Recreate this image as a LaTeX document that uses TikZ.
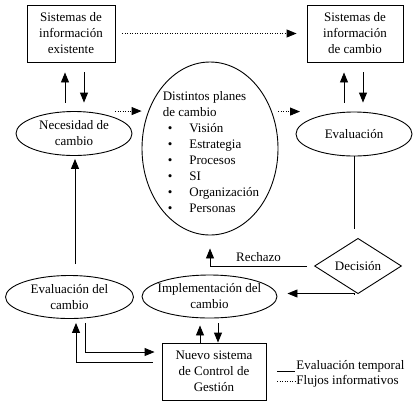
\documentclass[tikz,border=0pt]{standalone}
\usepackage{fontspec}
\setmainfont{Liberation Serif}
\usetikzlibrary{arrows.meta,shapes.geometric,calc}
\newcommand{\planitem}[1]{\hspace*{5pt}\textbullet\hspace{17pt}#1}
\begin{document}
\begin{tikzpicture}[x=1pt,y=-1pt,line width=0.9pt,
  font=\fontsize{13pt}{16pt}\selectfont,
  box/.style={draw,rectangle,align=center,inner sep=0pt},
  ell/.style={draw,ellipse,align=center,inner xsep=-10pt,inner ysep=0pt},
  decbox/.style={draw,diamond,inner sep=0pt,minimum width=87pt,minimum height=40pt},
  arr/.style={-{Triangle[width=8pt,length=10pt]}},
  flow/.style={arr,dash pattern=on 1pt off 1.5pt}]
\useasboundingbox (0,0) rectangle (419,408);
\node[box,minimum width=88pt,minimum height=57pt] (box1) at (71,33.5) {Sistemas de\\información\\existente};
\node[box,minimum width=96pt,minimum height=57pt] (box2) at (355,33.5) {Sistemas de\\información\\de cambio};
\node[ell,minimum width=116pt,minimum height=44pt] (nec) at (74,133.5) {Necesidad de\\cambio};
\node[ell,minimum width=136pt,minimum height=173pt] (plans) at (210,148.5) {};
\node[align=left,inner sep=0pt] (planlist) at (211,152) {Distintos planes\\de cambio\\\planitem{Visión}\\\planitem{Estrategia}\\\planitem{Procesos}\\\planitem{SI}\\\planitem{Organización}\\\planitem{Personas}};
\node[ell,minimum width=116pt,minimum height=44pt] (eval) at (354,134) {Evaluación};
\node[decbox] (decision) at (358,266) {Decisión};
\node[ell,minimum width=135pt,minimum height=43pt] (impl) at (209.5,296.5) {Implementación del\\cambio};
\node[ell,minimum width=128pt,minimum height=43pt] (evc) at (69.5,297) {Evaluación del\\cambio};
\node[box,minimum width=104pt,minimum height=57pt] (box3) at (214,371.5) {Nuevo sistema\\de Control de\\Gestión};
\node[anchor=west,inner sep=1pt] (legsolid) at (295,366) {Evaluación temporal};
\node[anchor=west,inner sep=1pt] (legdot) at (295,381) {Flujos informativos};
\draw[flow,shorten <=7pt,shorten >=10pt] (box1.east) -- (box2.west);
\draw[arr] ($(nec.north)+(-9,-8.5)$) -- ($(box1.south)+(-6,10)$);
\draw[arr] ($(box1.south)+(13,10)$) -- ($(nec.north)+(10,-8.5)$);
\draw[flow] ($(nec.north)+(41,0)$) -- (plans.west |- nec.north);
\draw[flow] (plans.east |- eval.north) -- ($(eval.north)+(-54,0)$);
\draw[arr] ($(eval.north)+(-10,-9)$) -- ($(box2.south)+(-11,10)$);
\draw[arr] ($(box2.south)+(8,10)$) -- ($(eval.north)+(9,-9)$);
\draw (eval.south) -- ($(eval.south |- decision.north)+(0,-9)$);
\draw[arr] ($(decision.west)+(-7,0)$) -| node[pos=0.25,above=1pt] {Rechazo} ($(plans.south)+(0,13)$);
\draw[arr] ($(decision.south)+(-4,0)$) |- ($(impl.east)+(10,-3)$);
\draw[arr] ($(evc.north)+(5.5,-11)$) -- ($(nec.south)+(1,3)$);
\draw[arr] ($(evc.south)+(15.5,4)$) |- ($(box3.west)+(-7,-19.5)$);
\draw[arr] ($(box3.west)+(-9,-9.5)$) -| ($(evc.south)+(6.5,4)$);
\draw[arr] ($(box3.north)+(-14,0)$) -- ($(impl.south)+(-9.5,7)$);
\draw[arr] ($(impl.south)+(8.5,5)$) -- ($(box3.north)+(4,0)$);
\draw ($(legsolid.west)+(-18,5)$) -- ($(legsolid.west)+(0,5)$);
\draw[dash pattern=on 1pt off 1.5pt] ($(legdot.west)+(-18,0)$) -- (legdot.west);
\end{tikzpicture}
\end{document}
